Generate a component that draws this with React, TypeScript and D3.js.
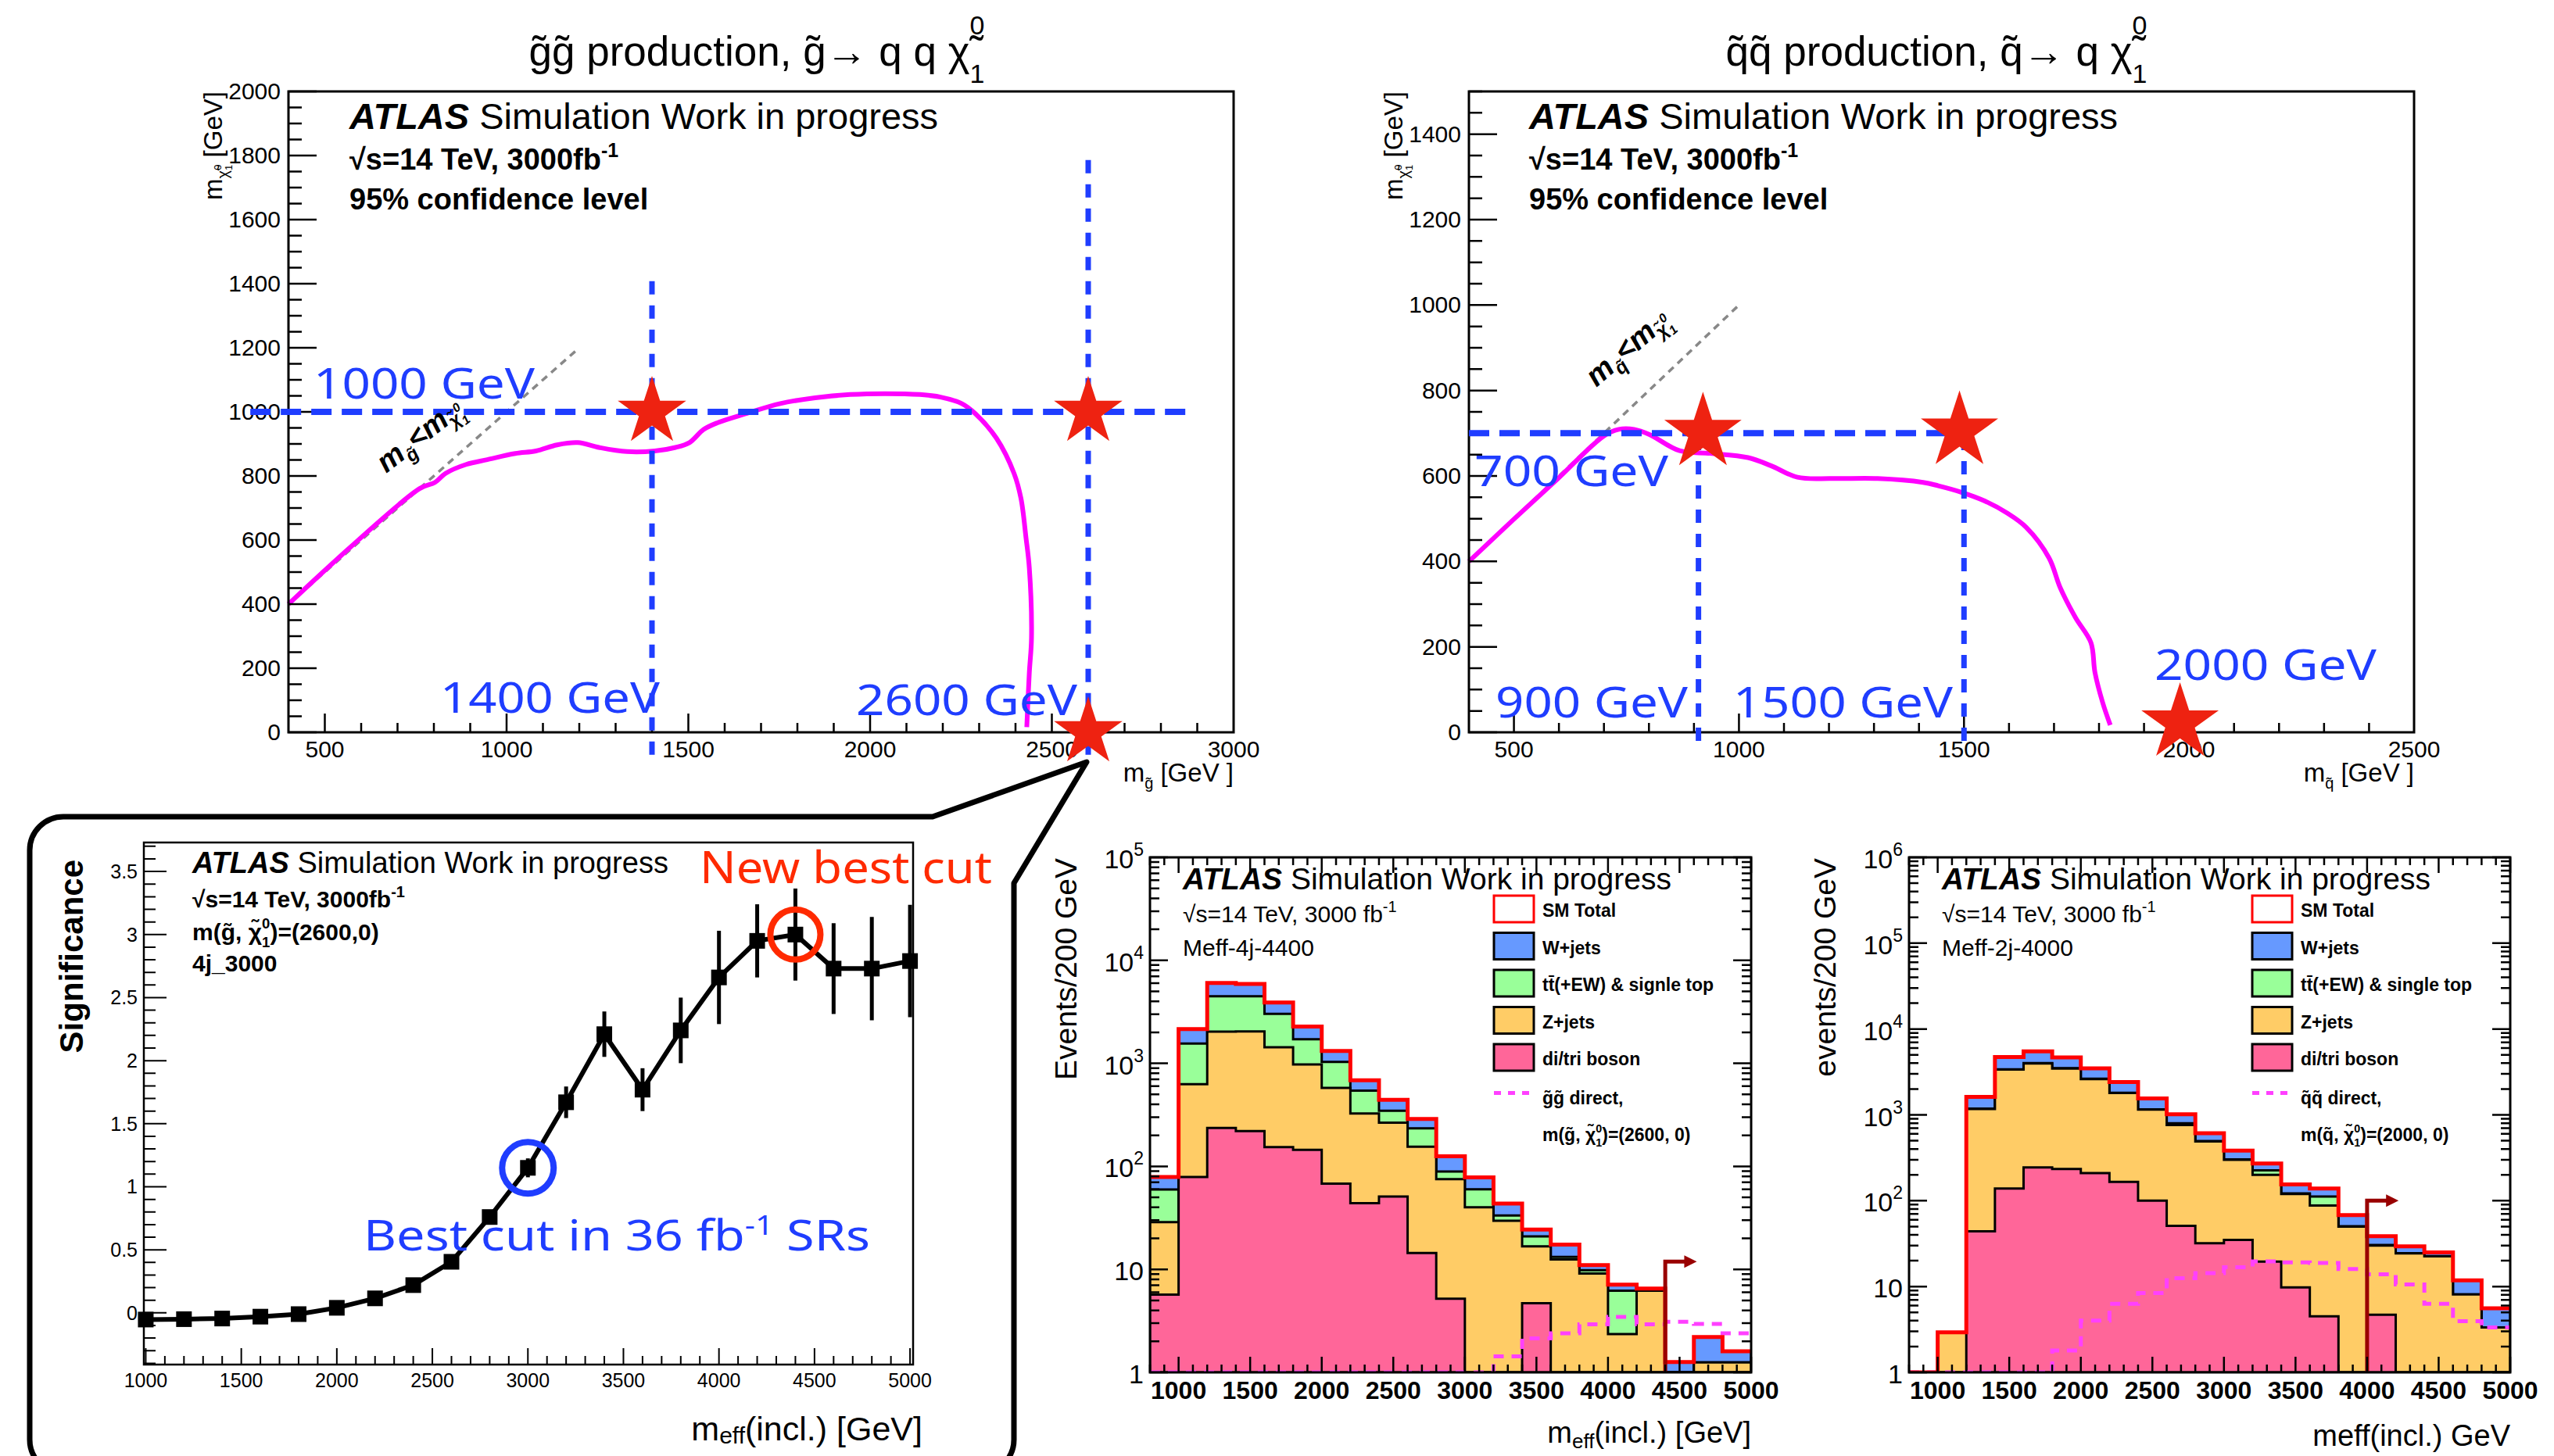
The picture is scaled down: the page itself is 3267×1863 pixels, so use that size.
import React from "react";
import * as d3 from "d3";

const W = 3267;
const H = 1863;
const SANS = "'Liberation Sans', Arial, Helvetica, sans-serif";
const ANNO = "'Noto Sans', 'Liberation Sans', sans-serif";
const BLUE = "#1f3dff";
const RED_ANNO = "#ff2a00";
const STAR_RED = "#ee2211";

// ---- top left: gluino pair production, 95% CL contour
const ggContourX = [400, 760, 803, 832, 889, 947, 1024, 1081, 1139, 1196, 1254, 1331, 1408, 1465, 1503, 1542, 1580, 1657, 1753, 1849, 1945, 2041, 2137, 2194, 2252, 2290, 2348, 2396, 2415, 2429, 2438, 2444, 2438, 2431];
const ggContourY = [400, 760, 780, 808, 836, 851, 870, 878, 897, 904, 889, 876, 878, 889, 904, 945, 966, 994, 1026, 1044, 1054, 1057, 1054, 1046, 1026, 994, 917, 808, 730, 606, 513, 295, 186, 16];
const ggDiagX = [400, 1190];
const ggDiagY = [400, 1190];
const ggStarX = [1400, 2600, 2600];
const ggStarY = [1000, 1000, 0];
const ggGuideX1 = [295, 1400, 2600];
const ggGuideY1 = [1000, -70, -70];
const ggGuideX2 = [2870, 1400, 2600];
const ggGuideY2 = [1000, 1430, 1800];
const ggXTicks = [500, 1000, 1500, 2000, 2500, 3000];
const ggYTicks = [0, 200, 400, 600, 800, 1000, 1200, 1400, 1600, 1800, 2000];

// ---- top right: squark pair production
const sqContourX = [400, 496, 598, 699, 733, 767, 801, 868, 936, 1020, 1071, 1130, 1207, 1308, 1409, 1443, 1494, 1545, 1596, 1638, 1689, 1714, 1748, 1782, 1791, 1808, 1825];
const sqContourY = [400, 495, 594, 693, 709, 709, 697, 659, 653, 643, 624, 597, 594, 594, 585, 577, 562, 542, 513, 480, 408, 338, 268, 210, 140, 70, 17];
const sqDiagX = [400, 1000];
const sqDiagY = [400, 1000];
const sqStarX = [920, 1490, 1980];
const sqStarY = [702, 705, 22];
const sqGuideX1 = [400, 910, 1500];
const sqGuideY1 = [700, -20, -20];
const sqGuideX2 = [1500, 910, 1500];
const sqGuideY2 = [700, 700, 700];
const sqXTicks = [500, 1000, 1500, 2000, 2500];
const sqYTicks = [0, 200, 400, 600, 800, 1000, 1200, 1400];

// ---- bottom left: significance vs meff cut
const scanCut = [1000, 1200, 1400, 1600, 1800, 2000, 2200, 2400, 2600, 2800, 3000, 3200, 3400, 3600, 3800, 4000, 4200, 4400, 4600, 4800, 5000];
const scanSig = [-0.053, -0.05, -0.045, -0.03, -0.01, 0.04, 0.115, 0.22, 0.405, 0.76, 1.15, 1.67, 2.21, 1.77, 2.24, 2.66, 2.95, 3.0, 2.73, 2.73, 2.79];
const scanErr = [0.01, 0.01, 0.01, 0.01, 0.01, 0.015, 0.02, 0.03, 0.04, 0.05, 0.075, 0.125, 0.18, 0.17, 0.26, 0.37, 0.29, 0.365, 0.36, 0.41, 0.445];
const scanXTicks = [1000, 1500, 2000, 2500, 3000, 3500, 4000, 4500, 5000];
const scanYTicks = [0, 0.5, 1, 1.5, 2, 2.5, 3, 3.5];
const scanYLabels = ["0", "0.5", "1", "1.5", "2", "2.5", "3", "3.5"];
const circleCut = [3000, 4400];
const circleSig = [1.15, 3.0];

// ---- bottom histograms: meff distributions, 200 GeV bins
const binLow = [800, 1000, 1200, 1400, 1600, 1800, 2000, 2200, 2400, 2600, 2800, 3000, 3200, 3400, 3600, 3800, 4000, 4200, 4400, 4600, 4800];
const histXTicks = [1000, 1500, 2000, 2500, 3000, 3500, 4000, 4500, 5000];

const dib4j = [5.7, 79, 236, 220, 154, 145, 68, 44, 51, 14.4, 5.2, 0, 0, 4.7, 0, 0, 0, 0, 0, 0, 0];
const zj4j = [23, 548, 1800, 1820, 1280, 830, 510, 282, 215, 141, 70, 40, 29.7, 12, 12.5, 9.1, 2.35, 6.2, 0, 1.25, 1.25];
const tt4j = [31, 930, 2450, 2450, 1590, 736, 457, 217, 81, 79, 14, 19.8, 3.6, 4.2, 0.7, 0.7, 3.85, 0, 0, 0, 0];
const wj4j = [19, 590, 1540, 1410, 870, 567, 283, 143, 95, 54, 36, 18.4, 10.3, 3.5, 4.2, 1.2, 0.9, 0.3, 1.26, 0.95, 0.35];
const sig4j = [0, 0, 0, 0, 0, 0, 0, 0, 0, 0, 0, 0, 1.43, 2.14, 2.4, 2.93, 3.45, 2.93, 3.1, 2.95, 2.4];

const dib2j = [0, 0, 44, 139, 244, 234, 210, 166, 100, 51, 32, 35, 19.5, 9.8, 4.5, 0, 4.7, 0, 0, 0, 0];
const zj2j = [0, 2.93, 1126, 3240, 3726, 3236, 2400, 1630, 1050, 712, 458, 264, 181, 110, 83.5, 50, 25.3, 24.3, 22.5, 8.1, 3.33];
const tt2j = [0, 0, 10, 20, 30, 30, 30, 14, 10, 37, 5, 3, 25, 2, 24, 0.5, 0.5, 0.2, 0.1, 0, 0];
const wj2j = [0, 0, 440, 1320, 1490, 1180, 840, 600, 390, 216, 117, 81, 46, 33, 27, 17.3, 8, 4.9, 2.4, 3.7, 2.24];
const sig2j = [0, 0, 0, 0, 0, 1.8, 4.0, 6.3, 8.4, 12.5, 14.3, 16.8, 19.6, 19.1, 18.8, 16.0, 13.9, 10.6, 6.3, 3.95, 3.33];

const legendLabels = ["SM Total", "W+jets", "tt\u0304(+EW) & ", "Z+jets", "di/tri boson"];
const BIN = 200;

const segPath = (segs: number[][]) => segs.map(([a, b, c, d]) => `M${a},${b}L${c},${d}`).join("");

// chi~ with stacked sub 1 / sup 0, then baseline restored
function Chi({ s, after = "" }: any) {
  return (
    <>
      <tspan>{"\u03C7\u0303"}</tspan>
      <tspan fontSize={s * 0.62} dy={s * 0.3}>1</tspan>
      <tspan fontSize={s * 0.62} dx={-s * 0.34} dy={-s * 0.8}>0</tspan>
      <tspan fontSize={s} dy={s * 0.5}>{after || "\u200B"}</tspan>
    </>
  );
}

function Exclusion(p: any) {
  const x = d3.scaleLinear().domain(p.xDomain).range([p.left, p.right]);
  const y = d3.scaleLinear().domain(p.yDomain).range([p.bottom, p.top]);
  const segs: number[][] = [];
  d3.range(p.xDomain[0] + 100, p.xDomain[1], 100).forEach((v) =>
    segs.push([x(v), p.bottom, x(v), p.bottom - (v % 500 === 0 ? 24 : 12)])
  );
  d3.range(p.yDomain[0], p.yDomain[1] + 1, 50).forEach((v) =>
    segs.push([p.left, y(v), p.left + (v % 200 === 0 ? 36 : 17), y(v)])
  );
  const contour = d3.line().curve(d3.curveCatmullRom.alpha(0.5))(
    p.cx.map((v: number, i: number) => [x(v), y(p.cy[i])])
  );
  const diag = d3.line()(p.dx.map((v: number, i: number) => [x(v), y(p.dy[i])]));
  const star = d3.symbol(d3.symbolStar, (p.starR * p.starR) / 0.8908)();
  return (
    <g>
      <path d={diag} stroke="#888" strokeWidth={3.5} strokeDasharray="9 7" fill="none" />
      <path d={contour} stroke="#ff00ff" strokeWidth={6} fill="none" />
      <rect x={p.left} y={p.top} width={p.right - p.left} height={p.bottom - p.top} fill="none" stroke="#000" strokeWidth={3} />
      <path d={segPath(segs)} stroke="#000" strokeWidth={2.5} />
      {p.xTicks.map((v: number) => (
        <text key={"x" + v} x={x(v)} y={p.bottom + 32} textAnchor="middle" fontSize={30}>{v}</text>
      ))}
      {p.yTicks.map((v: number) => (
        <text key={"y" + v} x={p.left - 10} y={y(v) + 10} textAnchor="end" fontSize={30}>{v}</text>
      ))}
      {p.gx1.map((v: number, i: number) => {
        const horiz = p.gy1[i] === p.gy2[i];
        return (
          <line key={"g" + i} x1={x(v)} y1={y(p.gy1[i])} x2={x(p.gx2[i])} y2={y(p.gy2[i])}
            stroke={BLUE} strokeWidth={horiz ? 8 : 7} strokeDasharray={horiz ? "26 13" : "17 14"} />
        );
      })}
      {p.sx.map((v: number, i: number) => (
        <path key={"s" + i} d={star || ""} transform={`translate(${x(v)},${y(p.sy[i])})`} fill={STAR_RED} />
      ))}
      {p.labels.map((l: any, i: number) => (
        <text key={"l" + i} x={l[1]} y={l[2]} fontSize={54} fontFamily={ANNO} fill={BLUE}
          textLength={l[3]} lengthAdjust="spacingAndGlyphs">{l[0]}</text>
      ))}
      <text x={p.textX} y={165} fontSize={47}>
        <tspan fontWeight="bold" fontStyle="italic">ATLAS</tspan> Simulation Work in progress
      </text>
      <text x={p.textX} y={217} fontSize={38} fontWeight="bold">
        {"\u221As=14 TeV, 3000fb"}<tspan fontSize={25} dy={-16}>-1</tspan>
      </text>
      <text x={p.textX} y={268} fontSize={38} fontWeight="bold">95% confidence level</text>
      <text transform={`translate(${p.diagLab[0]},${p.diagLab[1]}) rotate(${p.diagLab[2]})`} fontSize={38} fontWeight="bold" fontStyle="italic">
        m<tspan fontSize={24} dy={9}>{p.sparticle}</tspan><tspan fontSize={38} dy={-9}>{"<m"}</tspan>
        <tspan fontSize={24} dy={8}>{"\u03C7\u0303"}</tspan><tspan fontSize={16} dy={6}>1</tspan>
        <tspan fontSize={16} dx={-9} dy={-20}>0</tspan>
      </text>
      <text transform={`translate(${p.left - 85},${p.top}) rotate(-90)`} textAnchor="end" fontSize={33}>
        m<tspan fontSize={20} dy={8}>{"\u03C7\u0303"}</tspan><tspan fontSize={13} dy={5}>1</tspan>
        <tspan fontSize={13} dx={-7} dy={-14}>0</tspan><tspan fontSize={33} dy={1}>{" [GeV]"}</tspan>
      </text>
      <text x={p.right} y={1000} textAnchor="end" fontSize={33}>
        m<tspan fontSize={20} dy={9}>{p.sparticle}</tspan><tspan fontSize={33} dy={-9}>{" [GeV ]"}</tspan>
      </text>
      <text x={p.titleX} y={84} textAnchor="middle" fontSize={53}>
        {p.title}
        <tspan fontSize={34} dy={22}>1</tspan>
        <tspan fontSize={34} dx={-19} dy={-62}>0</tspan>
      </text>
    </g>
  );
}

function Callout() {
  const r = 43;
  const c = d3.path();
  c.moveTo(38, 1885 - r);
  c.lineTo(38, 1045 + r);
  c.arcTo(38, 1045, 38 + r, 1045, r);
  c.lineTo(1193, 1045);
  c.lineTo(1390, 975);
  c.lineTo(1297, 1130);
  c.lineTo(1297, 1885 - r);
  c.arcTo(1297, 1885, 1297 - r, 1885, r);
  c.lineTo(38 + r, 1885);
  c.arcTo(38, 1885, 38, 1885 - r, r);
  c.closePath();
  return <path d={c.toString()} fill="none" stroke="#000" strokeWidth={7} strokeLinejoin="round" />;
}

function Scan() {
  const L = 184, R = 1168, T = 1078, B = 1746;
  const x = d3.scaleLinear().domain([990, 5016]).range([L, R]);
  const y = d3.scaleLinear().domain([-0.41, 3.73]).range([B, T]);
  const segs: number[][] = [];
  d3.range(1000, 5001, 100).forEach((v) => segs.push([x(v), B, x(v), B - (v % 500 === 0 ? 21 : 11)]));
  d3.range(-4, 38).forEach((k) => segs.push([L, y(k / 10), L + (k % 5 === 0 ? 29 : 15), y(k / 10)]));
  const line = d3.line()(scanCut.map((v, i) => [x(v), y(scanSig[i])]));
  return (
    <g>
      <rect x={L} y={T} width={R - L} height={B - T} fill="none" stroke="#000" strokeWidth={2.5} />
      <path d={segPath(segs)} stroke="#000" strokeWidth={2} />
      {scanXTicks.map((v) => (
        <text key={v} x={x(v)} y={1775} textAnchor="middle" fontSize={25}>{v}</text>
      ))}
      {scanYTicks.map((v, i) => (
        <text key={v} x={L - 8} y={y(v) + 9} textAnchor="end" fontSize={25}>{scanYLabels[i]}</text>
      ))}
      <path d={line || ""} stroke="#000" strokeWidth={6} fill="none" />
      {scanCut.map((v, i) => (
        <line key={"e" + v} x1={x(v)} x2={x(v)} y1={y(scanSig[i] - scanErr[i])} y2={y(scanSig[i] + scanErr[i])} stroke="#000" strokeWidth={5} />
      ))}
      {scanCut.map((v, i) => (
        <rect key={"m" + v} x={x(v) - 10} y={y(scanSig[i]) - 10} width={20} height={20} fill="#000" />
      ))}
      <circle cx={x(circleCut[0])} cy={y(circleSig[0])} r={33} fill="none" stroke={BLUE} strokeWidth={8} />
      <circle cx={x(circleCut[1])} cy={y(circleSig[1])} r={32} fill="none" stroke={RED_ANNO} strokeWidth={8} />
      <text x={246} y={1117} fontSize={38}>
        <tspan fontWeight="bold" fontStyle="italic">ATLAS</tspan> Simulation Work in progress
      </text>
      <text x={246} y={1161} fontSize={30} fontWeight="bold">
        {"\u221As=14 TeV, 3000fb"}<tspan fontSize={20} dy={-13}>-1</tspan>
      </text>
      <text x={246} y={1203} fontSize={30} fontWeight="bold">
        {"m(g\u0303, "}<Chi s={30} after=")=(2600,0)" />
      </text>
      <text x={246} y={1243} fontSize={30} fontWeight="bold">4j_3000</text>
      <text x={895} y={1130} fontSize={56} fontFamily={ANNO} fill={RED_ANNO} textLength={374} lengthAdjust="spacingAndGlyphs">New best cut</text>
      <text x={465} y={1600} fontSize={54} fontFamily={ANNO} fill={BLUE} textLength={648} lengthAdjust="spacingAndGlyphs">
        Best cut in 36 fb<tspan fontSize={34} dy={-20}>-1</tspan><tspan fontSize={54} dy={20}> SRs</tspan>
      </text>
      <text transform="translate(106,1100) rotate(-90)" textAnchor="end" fontSize={42} fontWeight="bold">Significance</text>
      <text x={1180} y={1843} textAnchor="end" fontSize={43}>
        m<tspan fontSize={30} dy={4}>eff</tspan><tspan fontSize={43} dy={-4}>(incl.) [GeV]</tspan>
      </text>
    </g>
  );
}

function StackHist(p: any) {
  const { left: L, right: R, top: T, bottom: B } = p;
  const x = d3.scaleLinear().domain([800, 5000]).range([L, R]);
  const y = d3.scaleLog().domain([1, p.yMax]).range([B, T]);
  const yc = (v: number) => y(Math.max(1, v));
  const rows = binLow.map((lo, i) => ({ lo, dib: p.dib[i], zj: p.zj[i], tt: p.tt[i], wj: p.wj[i] }));
  const series = d3.stack().keys(["dib", "zj", "tt", "wj"])(rows as any);
  const colors: any = { dib: "#ff6699", zj: "#ffcc66", tt: "#99ff99", wj: "#6699ff" };
  const ext = (vals: number[]) => [...binLow.map((lo, i) => [lo, vals[i]]), [binLow[binLow.length - 1] + BIN, vals[vals.length - 1]]];
  const area = d3.area<any>().curve(d3.curveStepAfter).x((d) => x(d[0])).y0(B).y1((d) => yc(d[1]));
  const step = d3.line<any>().curve(d3.curveStepAfter).x((d) => x(d[0])).y((d) => yc(d[1]));
  const total = series[3].map((d: any) => d[1]);
  const segs: number[][] = [];
  d3.range(800, 5001, 100).forEach((v) => {
    const l = v % 500 === 0 ? 20 : 10;
    segs.push([x(v), B, x(v), B - l], [x(v), T, x(v), T + l]);
  });
  const decades = d3.range(0, Math.round(Math.log10(p.yMax)) + 1);
  y.ticks().forEach((v) => {
    const major = Math.abs(Math.log10(v) - Math.round(Math.log10(v))) < 1e-9;
    const l = major ? 23 : 12;
    segs.push([L, y(v), L + l, y(v)], [R, y(v), R - l, y(v)]);
  });
  const clip = "clip" + p.id;
  const lx = p.legendX, tx = p.legendX + 62;
  const rowY = (i: number) => 1163 + i * 47.5;
  const legendFill = ["#fff", colors.wj, colors.tt, colors.zj, colors.dib];
  const ax = x(p.cut), ay = y(p.arrowTop), tip = x(p.arrowTip);
  return (
    <g>
      <defs>
        <clipPath id={clip}><rect x={L} y={T} width={R - L} height={B - T} /></clipPath>
      </defs>
      <g clipPath={`url(#${clip})`}>
        {[3, 2, 1, 0].map((k) => (
          <path key={k} d={area(ext(series[k].map((d: any) => d[1]))) || ""} fill={colors[series[k].key]} stroke="#000" strokeWidth={3} />
        ))}
        <path d={step(ext(p.sig)) || ""} fill="none" stroke="#ff40ff" strokeWidth={5} strokeDasharray="13 10" />
        <path d={step(ext(total)) || ""} fill="none" stroke="#ff0000" strokeWidth={5} />
      </g>
      <path d={`M${ax},${B}V${ay}H${tip - 14}`} fill="none" stroke="#990000" strokeWidth={5} />
      <path d={`M${tip},${ay}L${tip - 16},${ay - 8}L${tip - 16},${ay + 8}Z`} fill="#990000" />
      <rect x={L} y={T} width={R - L} height={B - T} fill="none" stroke="#000" strokeWidth={3} />
      <path d={segPath(segs)} stroke="#000" strokeWidth={2.5} />
      {histXTicks.map((v) => (
        <text key={v} x={x(v)} y={1790} textAnchor="middle" fontSize={32} fontWeight="bold">{v}</text>
      ))}
      {decades.map((d) => (
        <text key={d} x={L - 8} y={y(10 ** d) + 14} textAnchor="end" fontSize={34}>
          {d === 0 ? "1" : "10"}
          {d > 1 ? <tspan fontSize={23} dy={-16}>{d}</tspan> : null}
        </text>
      ))}
      <text x={L + 42} y={1138} fontSize={39}>
        <tspan fontWeight="bold" fontStyle="italic">ATLAS</tspan> Simulation Work in progress
      </text>
      <text x={L + 42} y={1180} fontSize={30}>
        {"\u221As=14 TeV, 3000 fb"}<tspan fontSize={20} dy={-13}>-1</tspan>
      </text>
      <text x={L + 42} y={1223} fontSize={30}>{p.region}</text>
      {legendLabels.map((lab, i) => (
        <g key={lab}>
          <rect x={lx} y={rowY(i) - 17} width={51} height={34} fill={legendFill[i]} stroke={i === 0 ? "#ff0000" : "#000"} strokeWidth={3} />
          <text x={tx} y={rowY(i) + 10} fontSize={23} fontWeight="bold">{i === 2 ? lab + p.topWord : lab}</text>
        </g>
      ))}
      <line x1={lx} x2={lx + 51} y1={rowY(5) - 2} y2={rowY(5) - 2} stroke="#ff40ff" strokeWidth={5} strokeDasharray="9 9" />
      <text x={tx} y={1413} fontSize={23} fontWeight="bold">{p.sparticle + p.sparticle + " direct,"}</text>
      <text x={tx} y={1460} fontSize={23} fontWeight="bold">
        {`m(${p.sparticle}, `}<Chi s={23} after={`)=(${p.mass}, 0)`} />
      </text>
      <text transform={`translate(${L - 94},${T + 1}) rotate(-90)`} textAnchor="end" fontSize={39}>{p.yTitle}</text>
      {p.xTitleSub ? (
        <text x={R} y={1846} textAnchor="end" fontSize={38}>
          m<tspan fontSize={26} dy={7}>eff</tspan><tspan fontSize={38} dy={-7}>(incl.) [GeV]</tspan>
        </text>
      ) : (
        <text x={R} y={1850} textAnchor="end" fontSize={38}>meff(incl.) GeV</text>
      )}
    </g>
  );
}

export default function App() {
  return (
    <svg width={W} height={H} style={{ position: "absolute", left: 0, top: 0, background: "#fff" }} fontFamily={SANS}>
      <rect width={W} height={H} fill="#fff" />
      <Exclusion left={369} right={1578} top={117} bottom={937} xDomain={[400, 3000]} yDomain={[0, 2000]}
        xTicks={ggXTicks} yTicks={ggYTicks} cx={ggContourX} cy={ggContourY} dx={ggDiagX} dy={ggDiagY}
        sx={ggStarX} sy={ggStarY} starR={46} gx1={ggGuideX1} gy1={ggGuideY1} gx2={ggGuideX2} gy2={ggGuideY2}
        labels={[["1000 GeV", 401, 510, 283], ["1400 GeV", 563, 912, 281], ["2600 GeV", 1095, 915, 283]]}
        textX={447} diagLab={[494, 606, -38]} sparticle={"g\u0303"} titleX={968}
        title={"g\u0303g\u0303 production, g\u0303\u2192 q q \u03C7\u0303"} />
      <Exclusion left={1879} right={3088} top={117} bottom={937} xDomain={[400, 2500]} yDomain={[0, 1500]}
        xTicks={sqXTicks} yTicks={sqYTicks} cx={sqContourX} cy={sqContourY} dx={sqDiagX} dy={sqDiagY}
        sx={sqStarX} sy={sqStarY} starR={52} gx1={sqGuideX1} gy1={sqGuideY1} gx2={sqGuideX2} gy2={sqGuideY2}
        labels={[["700 GeV", 1886, 622, 248], ["900 GeV", 1913, 918, 246], ["1500 GeV", 2217, 918, 281], ["2000 GeV", 2756, 870, 284]]}
        textX={1956} diagLab={[2042, 496, -41]} sparticle={"q\u0303"} titleX={2477}
        title={"q\u0303q\u0303 production, q\u0303\u2192 q \u03C7\u0303"} />
      <Callout />
      <Scan />
      <StackHist id="4j" left={1471} right={2240} top={1097} bottom={1756} yMax={1e5}
        dib={dib4j} zj={zj4j} tt={tt4j} wj={wj4j} sig={sig4j} cut={4400} arrowTop={11.9} arrowTip={4620}
        legendX={1911} region="Meff-4j-4400" topWord="signle top" sparticle={"g\u0303"} mass={2600}
        yTitle="Events/200 GeV" xTitleSub={true} />
      <StackHist id="2j" left={2442} right={3211} top={1097} bottom={1756} yMax={1e6}
        dib={dib2j} zj={zj2j} tt={tt2j} wj={wj2j} sig={sig2j} cut={4000} arrowTop={100} arrowTip={4220}
        legendX={2881} region="Meff-2j-4000" topWord="single top" sparticle={"q\u0303"} mass={2000}
        yTitle="events/200 GeV" xTitleSub={false} />
    </svg>
  );
}
